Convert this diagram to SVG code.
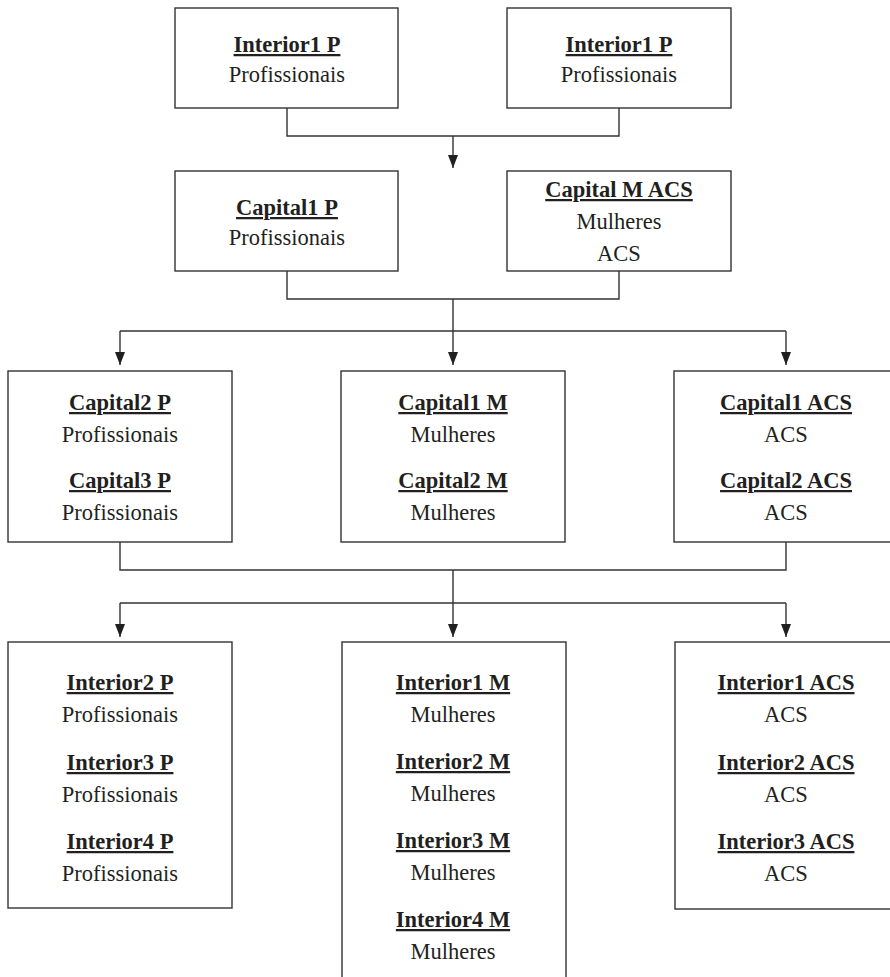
<svg xmlns="http://www.w3.org/2000/svg" width="890" height="977" viewBox="0 0 890 977" font-family="'Liberation Serif', 'Times New Roman', serif">
<style>
.box{fill:#fff;stroke:#333;stroke-width:1.4}
.t{font-family:'Liberation Serif','Times New Roman',serif;font-size:22.5px;fill:#231f20;text-anchor:middle}
.h{font-weight:bold;text-decoration:underline}
.c{fill:none;stroke:#333;stroke-width:1.4}
</style>
<defs>
<marker id="ah" markerWidth="13" markerHeight="10" refX="13" refY="5" orient="auto" markerUnits="userSpaceOnUse" viewBox="0 0 13 10">
<path d="M0,0 L13,5 L0,10 Z" fill="#231f20"/>
</marker>
</defs>
<rect width="890" height="977" fill="#fff"/>
<g id="connectors">
<path class="c" d="M287,108 V136 H619 V108"/>
<path class="c" d="M453,136 V168" marker-end="url(#ah)"/>
<path class="c" d="M287,271 V299 H619 V271"/>
<path class="c" d="M453,299 V365" marker-end="url(#ah)"/>
<path class="c" d="M120,331 H786"/>
<path class="c" d="M120,331 V365" marker-end="url(#ah)"/>
<path class="c" d="M786,331 V365" marker-end="url(#ah)"/>
<path class="c" d="M120,542 V570 H786 V542"/>
<path class="c" d="M453,570 V637" marker-end="url(#ah)"/>
<path class="c" d="M120,603 H786"/>
<path class="c" d="M120,603 V637" marker-end="url(#ah)"/>
<path class="c" d="M786,603 V637" marker-end="url(#ah)"/>
</g>
<g id="interior1p_a">
<rect class="box" x="175" y="8" width="223" height="100"/>
<text class="t h" x="287" y="52">Interior1 P</text>
<text class="t" x="287" y="82">Profissionais</text>
</g>
<g id="interior1p_b">
<rect class="box" x="507" y="8" width="224" height="100"/>
<text class="t h" x="619" y="52">Interior1 P</text>
<text class="t" x="619" y="82">Profissionais</text>
</g>
<g id="capital1p">
<rect class="box" x="175" y="171" width="223" height="100"/>
<text class="t h" x="287" y="215">Capital1 P</text>
<text class="t" x="287" y="245">Profissionais</text>
</g>
<g id="capitalmacs">
<rect class="box" x="507" y="171" width="224" height="100"/>
<text class="t h" x="619" y="197">Capital M ACS</text>
<text class="t" x="619" y="229">Mulheres</text>
<text class="t" x="619" y="261">ACS</text>
</g>
<g id="capitalp">
<rect class="box" x="8" y="371" width="224" height="171"/>
<text class="t h" x="120" y="410">Capital2 P</text>
<text class="t" x="120" y="442">Profissionais</text>
<text class="t h" x="120" y="488">Capital3 P</text>
<text class="t" x="120" y="520">Profissionais</text>
</g>
<g id="capitalm">
<rect class="box" x="341" y="371" width="224" height="171"/>
<text class="t h" x="453" y="410">Capital1 M</text>
<text class="t" x="453" y="442">Mulheres</text>
<text class="t h" x="453" y="488">Capital2 M</text>
<text class="t" x="453" y="520">Mulheres</text>
</g>
<g id="capitalacs">
<rect class="box" x="674" y="371" width="224" height="171"/>
<text class="t h" x="786" y="410">Capital1 ACS</text>
<text class="t" x="786" y="442">ACS</text>
<text class="t h" x="786" y="488">Capital2 ACS</text>
<text class="t" x="786" y="520">ACS</text>
</g>
<g id="interiorp">
<rect class="box" x="8" y="642" width="224" height="266"/>
<text class="t h" x="120" y="690">Interior2 P</text>
<text class="t" x="120" y="722">Profissionais</text>
<text class="t h" x="120" y="770">Interior3 P</text>
<text class="t" x="120" y="802">Profissionais</text>
<text class="t h" x="120" y="849">Interior4 P</text>
<text class="t" x="120" y="881">Profissionais</text>
</g>
<g id="interiorm">
<rect class="box" x="342" y="642" width="224" height="345"/>
<text class="t h" x="453" y="690">Interior1 M</text>
<text class="t" x="453" y="722">Mulheres</text>
<text class="t h" x="453" y="769">Interior2 M</text>
<text class="t" x="453" y="801">Mulheres</text>
<text class="t h" x="453" y="848">Interior3 M</text>
<text class="t" x="453" y="880">Mulheres</text>
<text class="t h" x="453" y="927">Interior4 M</text>
<text class="t" x="453" y="959">Mulheres</text>
</g>
<g id="interioracs">
<rect class="box" x="675" y="642" width="224" height="267"/>
<text class="t h" x="786" y="690">Interior1 ACS</text>
<text class="t" x="786" y="722">ACS</text>
<text class="t h" x="786" y="770">Interior2 ACS</text>
<text class="t" x="786" y="802">ACS</text>
<text class="t h" x="786" y="849">Interior3 ACS</text>
<text class="t" x="786" y="881">ACS</text>
</g>
</svg>
